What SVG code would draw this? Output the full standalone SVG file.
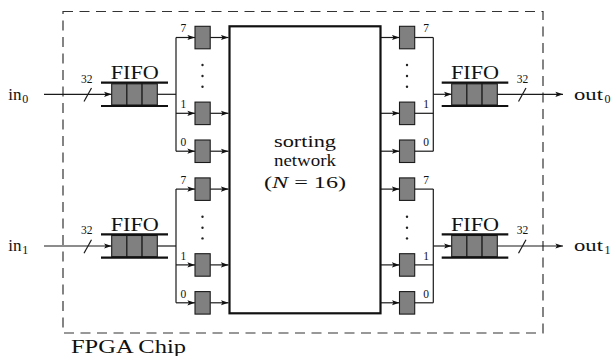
<svg xmlns="http://www.w3.org/2000/svg" width="614" height="356" viewBox="0 0 614 356" font-family="'Liberation Serif', 'DejaVu Serif', serif">
<defs>
<marker id="ah" markerWidth="8" markerHeight="6" refX="7.6" refY="3" orient="auto" markerUnits="userSpaceOnUse">
<path d="M0,0.4 L7.6,3 L0,5.6 L1.6,3 z" fill="#111"/>
</marker>
</defs>
<style>
.ln{stroke:#1a1a1a;stroke-width:1.2;fill:none}
.ar{stroke:#1a1a1a;stroke-width:1.2;fill:none;marker-end:url(#ah)}
.reg{fill:#808080;stroke:#1a1a1a;stroke-width:1.1}
.cell{fill:#808080;stroke:#1a1a1a;stroke-width:1.1}
.rail{stroke:#111;stroke-width:2.2}
text{font-family:'Liberation Serif','DejaVu Serif',serif;fill:#111}
.big{font-size:18px}
.mid{font-size:17px}
.sm{font-size:11.5px}
.sub{font-size:12px}
.dot{fill:#222}
</style>
<rect width="614" height="356" fill="#fff"/>

<g id="fpga-chip">
<rect x="63" y="11.5" width="480" height="321.5" fill="none" stroke="#333" stroke-width="1.2" stroke-dasharray="10 6.5"/>
<text class="big" x="71" y="352.5" textLength="115" lengthAdjust="spacingAndGlyphs">FPGA Chip</text>
</g>

<g id="connectors">
<line class="ar" x1="44" y1="94.3" x2="111.7" y2="94.3"/>
<line class="ln" x1="84" y1="101.5" x2="91.5" y2="88"/>
<line class="ln" x1="157.3" y1="94.3" x2="176" y2="94.3"/>
<line class="ln" x1="176" y1="37.5" x2="176" y2="151.2"/>
<line class="ar" x1="176" y1="37.5" x2="195" y2="37.5"/>
<line class="ar" x1="176" y1="113.3" x2="195" y2="113.3"/>
<line class="ar" x1="176" y1="151.2" x2="195" y2="151.2"/>
<line class="ar" x1="210.2" y1="37.5" x2="228.5" y2="37.5"/>
<line class="ar" x1="210.2" y1="113.3" x2="228.5" y2="113.3"/>
<line class="ar" x1="210.2" y1="151.2" x2="228.5" y2="151.2"/>
<line class="ar" x1="44" y1="246" x2="111.7" y2="246"/>
<line class="ln" x1="84" y1="253.2" x2="91.5" y2="239.7"/>
<line class="ln" x1="157.3" y1="246" x2="176" y2="246"/>
<line class="ln" x1="176" y1="189.1" x2="176" y2="302.8"/>
<line class="ar" x1="176" y1="189.1" x2="195" y2="189.1"/>
<line class="ar" x1="176" y1="264.9" x2="195" y2="264.9"/>
<line class="ar" x1="176" y1="302.8" x2="195" y2="302.8"/>
<line class="ar" x1="210.2" y1="189.1" x2="228.5" y2="189.1"/>
<line class="ar" x1="210.2" y1="264.9" x2="228.5" y2="264.9"/>
<line class="ar" x1="210.2" y1="302.8" x2="228.5" y2="302.8"/>
<line class="ar" x1="381" y1="37.5" x2="399.5" y2="37.5"/>
<line class="ar" x1="381" y1="113.3" x2="399.5" y2="113.3"/>
<line class="ar" x1="381" y1="151.2" x2="399.5" y2="151.2"/>
<line class="ln" x1="414.7" y1="37.5" x2="433.3" y2="37.5"/>
<line class="ln" x1="414.7" y1="113.3" x2="433.3" y2="113.3"/>
<line class="ln" x1="414.7" y1="151.2" x2="433.3" y2="151.2"/>
<line class="ln" x1="433.3" y1="37.5" x2="433.3" y2="151.2"/>
<line class="ar" x1="433.3" y1="94.3" x2="451.7" y2="94.3"/>
<line class="ar" x1="497.3" y1="94.3" x2="563" y2="94.3"/>
<line class="ln" x1="518.5" y1="101.5" x2="526" y2="88"/>
<line class="ar" x1="381" y1="189.1" x2="399.5" y2="189.1"/>
<line class="ar" x1="381" y1="264.9" x2="399.5" y2="264.9"/>
<line class="ar" x1="381" y1="302.8" x2="399.5" y2="302.8"/>
<line class="ln" x1="414.7" y1="189.1" x2="433.3" y2="189.1"/>
<line class="ln" x1="414.7" y1="264.9" x2="433.3" y2="264.9"/>
<line class="ln" x1="414.7" y1="302.8" x2="433.3" y2="302.8"/>
<line class="ln" x1="433.3" y1="189.1" x2="433.3" y2="302.8"/>
<line class="ar" x1="433.3" y1="246" x2="451.7" y2="246"/>
<line class="ar" x1="497.3" y1="246" x2="563" y2="246"/>
<line class="ln" x1="518.5" y1="253.2" x2="526" y2="239.7"/>
</g>

<g id="in0">
<text class="mid" x="8.3" y="99.5">in</text><text class="sub" x="22.3" y="102.5">0</text>
<text class="sm" x="86.7" y="82.5" text-anchor="middle">32</text>
</g>
<g id="in1">
<text class="mid" x="8.3" y="251.2">in</text><text class="sub" x="22.3" y="254.2">1</text>
<text class="sm" x="86.7" y="234.2" text-anchor="middle">32</text>
</g>
<g id="out0">
<text class="mid" x="574" y="99.5" textLength="29" lengthAdjust="spacingAndGlyphs">out</text><text class="sub" x="604.5" y="102.5">0</text>
<text class="sm" x="522.5" y="82.5" text-anchor="middle">32</text>
</g>
<g id="out1">
<text class="mid" x="574" y="251.2" textLength="29" lengthAdjust="spacingAndGlyphs">out</text><text class="sub" x="604.5" y="254.2">1</text>
<text class="sm" x="522.5" y="234.2" text-anchor="middle">32</text>
</g>

<g id="fifo-in0">
<rect class="cell" x="111.7" y="83.8" width="15.2" height="21.2"/>
<rect class="cell" x="126.9" y="83.8" width="15.2" height="21.2"/>
<rect class="cell" x="142.1" y="83.8" width="15.2" height="21.2"/>
<line class="rail" x1="101" y1="82.7" x2="168" y2="82.7"/>
<line class="rail" x1="101" y1="106" x2="168" y2="106"/>
<text class="big" x="134.8" y="79" text-anchor="middle" textLength="48" lengthAdjust="spacingAndGlyphs">FIFO</text>
</g>
<g id="fifo-in1">
<rect class="cell" x="111.7" y="235.5" width="15.2" height="21.2"/>
<rect class="cell" x="126.9" y="235.5" width="15.2" height="21.2"/>
<rect class="cell" x="142.1" y="235.5" width="15.2" height="21.2"/>
<line class="rail" x1="101" y1="234.4" x2="168" y2="234.4"/>
<line class="rail" x1="101" y1="257.7" x2="168" y2="257.7"/>
<text class="big" x="134.8" y="230.7" text-anchor="middle" textLength="48" lengthAdjust="spacingAndGlyphs">FIFO</text>
</g>
<g id="fifo-out0">
<rect class="cell" x="451.7" y="83.8" width="15.2" height="21.2"/>
<rect class="cell" x="466.9" y="83.8" width="15.2" height="21.2"/>
<rect class="cell" x="482.1" y="83.8" width="15.2" height="21.2"/>
<line class="rail" x1="441.7" y1="82.7" x2="508.3" y2="82.7"/>
<line class="rail" x1="441.7" y1="106" x2="508.3" y2="106"/>
<text class="big" x="475" y="79" text-anchor="middle" textLength="48" lengthAdjust="spacingAndGlyphs">FIFO</text>
</g>
<g id="fifo-out1">
<rect class="cell" x="451.7" y="235.5" width="15.2" height="21.2"/>
<rect class="cell" x="466.9" y="235.5" width="15.2" height="21.2"/>
<rect class="cell" x="482.1" y="235.5" width="15.2" height="21.2"/>
<line class="rail" x1="441.7" y1="234.4" x2="508.3" y2="234.4"/>
<line class="rail" x1="441.7" y1="257.7" x2="508.3" y2="257.7"/>
<text class="big" x="475" y="230.7" text-anchor="middle" textLength="48" lengthAdjust="spacingAndGlyphs">FIFO</text>
</g>

<g id="in-regs-upper">
<rect class="reg" x="195" y="26.3" width="15.2" height="22.5"/>
<rect class="reg" x="195" y="102.1" width="15.2" height="22.5"/>
<rect class="reg" x="195" y="140" width="15.2" height="22.5"/>
<circle class="dot" cx="202.5" cy="65" r="1.2"/><circle class="dot" cx="202.5" cy="76" r="1.2"/><circle class="dot" cx="202.5" cy="86.7" r="1.2"/>
<text class="sm" x="183.3" y="32.3" text-anchor="middle">7</text>
<text class="sm" x="183.3" y="108" text-anchor="middle">1</text>
<text class="sm" x="183.3" y="145.9" text-anchor="middle">0</text>
</g>
<g id="in-regs-lower">
<rect class="reg" x="195" y="177.9" width="15.2" height="22.5"/>
<rect class="reg" x="195" y="253.7" width="15.2" height="22.5"/>
<rect class="reg" x="195" y="291.6" width="15.2" height="22.5"/>
<circle class="dot" cx="202.5" cy="216.7" r="1.2"/><circle class="dot" cx="202.5" cy="227.7" r="1.2"/><circle class="dot" cx="202.5" cy="238.4" r="1.2"/>
<text class="sm" x="183.3" y="183.9" text-anchor="middle">7</text>
<text class="sm" x="183.3" y="259.6" text-anchor="middle">1</text>
<text class="sm" x="183.3" y="297.5" text-anchor="middle">0</text>
</g>
<g id="out-regs-upper">
<rect class="reg" x="399.5" y="26.3" width="15.2" height="22.5"/>
<rect class="reg" x="399.5" y="102.1" width="15.2" height="22.5"/>
<rect class="reg" x="399.5" y="140" width="15.2" height="22.5"/>
<circle class="dot" cx="407" cy="65" r="1.2"/><circle class="dot" cx="407" cy="76" r="1.2"/><circle class="dot" cx="407" cy="86.7" r="1.2"/>
<text class="sm" x="426" y="32.3" text-anchor="middle">7</text>
<text class="sm" x="426" y="108" text-anchor="middle">1</text>
<text class="sm" x="426" y="145.9" text-anchor="middle">0</text>
</g>
<g id="out-regs-lower">
<rect class="reg" x="399.5" y="177.9" width="15.2" height="22.5"/>
<rect class="reg" x="399.5" y="253.7" width="15.2" height="22.5"/>
<rect class="reg" x="399.5" y="291.6" width="15.2" height="22.5"/>
<circle class="dot" cx="407" cy="216.7" r="1.2"/><circle class="dot" cx="407" cy="227.7" r="1.2"/><circle class="dot" cx="407" cy="238.4" r="1.2"/>
<text class="sm" x="426" y="183.9" text-anchor="middle">7</text>
<text class="sm" x="426" y="259.6" text-anchor="middle">1</text>
<text class="sm" x="426" y="297.5" text-anchor="middle">0</text>
</g>

<g id="sorting-network">
<rect x="229.5" y="26.3" width="151" height="287" fill="#fff" stroke="#111" stroke-width="2.2"/>
<text class="mid" x="305" y="147.3" text-anchor="middle" textLength="62" lengthAdjust="spacingAndGlyphs">sorting</text>
<text class="mid" x="305" y="166" text-anchor="middle" textLength="62" lengthAdjust="spacingAndGlyphs">network</text>
<text class="mid" x="305" y="187.5" text-anchor="middle" textLength="82" lengthAdjust="spacingAndGlyphs">(<tspan font-style="italic">N</tspan> = 16)</text>
</g>
</svg>
